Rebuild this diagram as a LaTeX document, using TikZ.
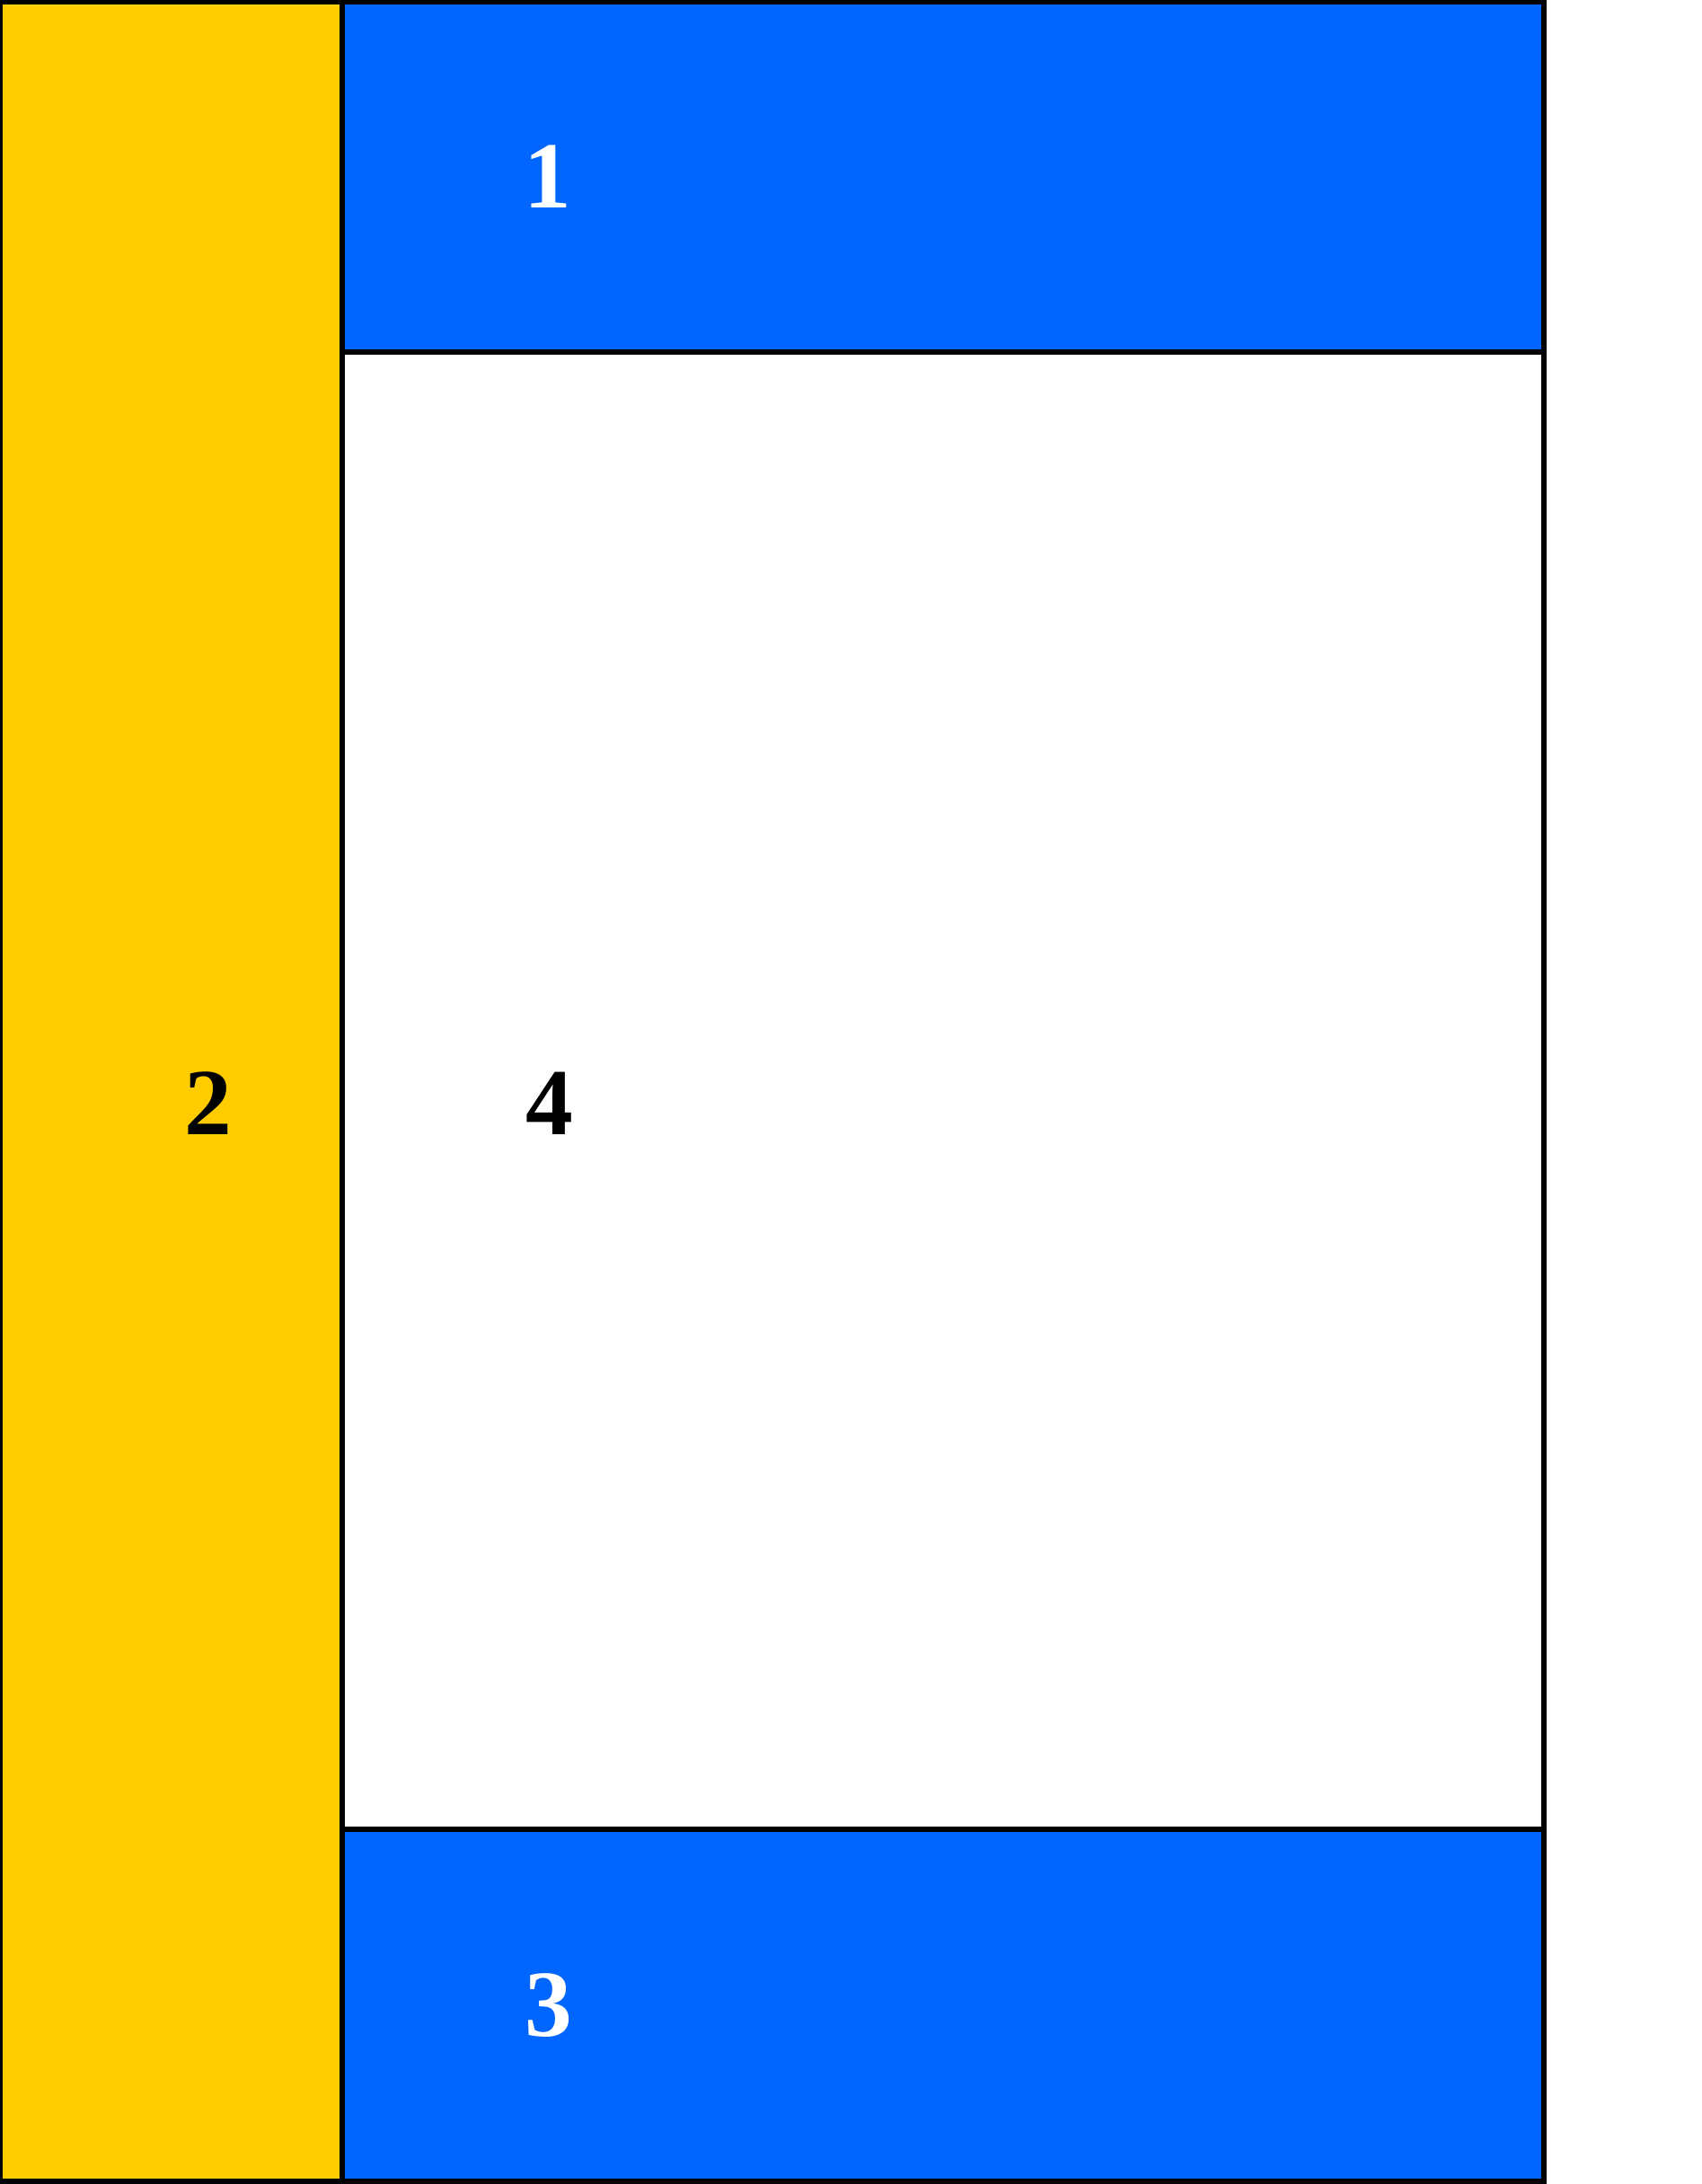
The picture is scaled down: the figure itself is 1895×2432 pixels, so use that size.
\documentclass[tikz,border=0pt]{standalone}
\usepackage{fontspec}
\setmainfont{Liberation Serif}[BoldFont={Liberation Serif Bold}]
\usetikzlibrary{positioning,calc}
\definecolor{lyBlue}{RGB}{  0,102,255}
\definecolor{lyGold}{RGB}{255,204,  0}

\begin{document}
\begin{tikzpicture}[
  x=0.01cm,y=-0.01cm,
  every node/.style={font=\fontsize{30}{36}\selectfont\bfseries,inner sep=0pt},
  panel/.style={draw=black,line width=1.7pt,outer sep=0pt},
  band/.style={panel,fill=lyBlue,minimum width=13.37cm},
  numw/.style={text=white},
  numb/.style={text=black}
]
\useasboundingbox (0,0) rectangle (1895,2432);

% left column
\node[panel,fill=lyGold,minimum width=3.81cm,minimum height=24.26cm,
      anchor=north west] (side) at (0,2) {};

% header band
\node[band,minimum height=3.90cm,anchor=north west] (head) at (side.north east) {};

% content area
\node[panel,fill=white,minimum width=13.37cm,minimum height=16.44cm,
      anchor=north west] (main) at (head.south west) {};

% footer band
\node[band,minimum height=3.92cm,anchor=north west] (foot) at (main.south west) {};

% labels
\node[numw] (n1) at ($(head.west)+(229,0)$) {1};
\node[numb] (n2) at ($(side.west)+(232,13)$) {2};
\node[numw] (n3) at ($(foot.west)+(230,0)$) {3};
\node[numb] (n4) at ($(main.west)+(231,14)$) {4};
\end{tikzpicture}
\end{document}
